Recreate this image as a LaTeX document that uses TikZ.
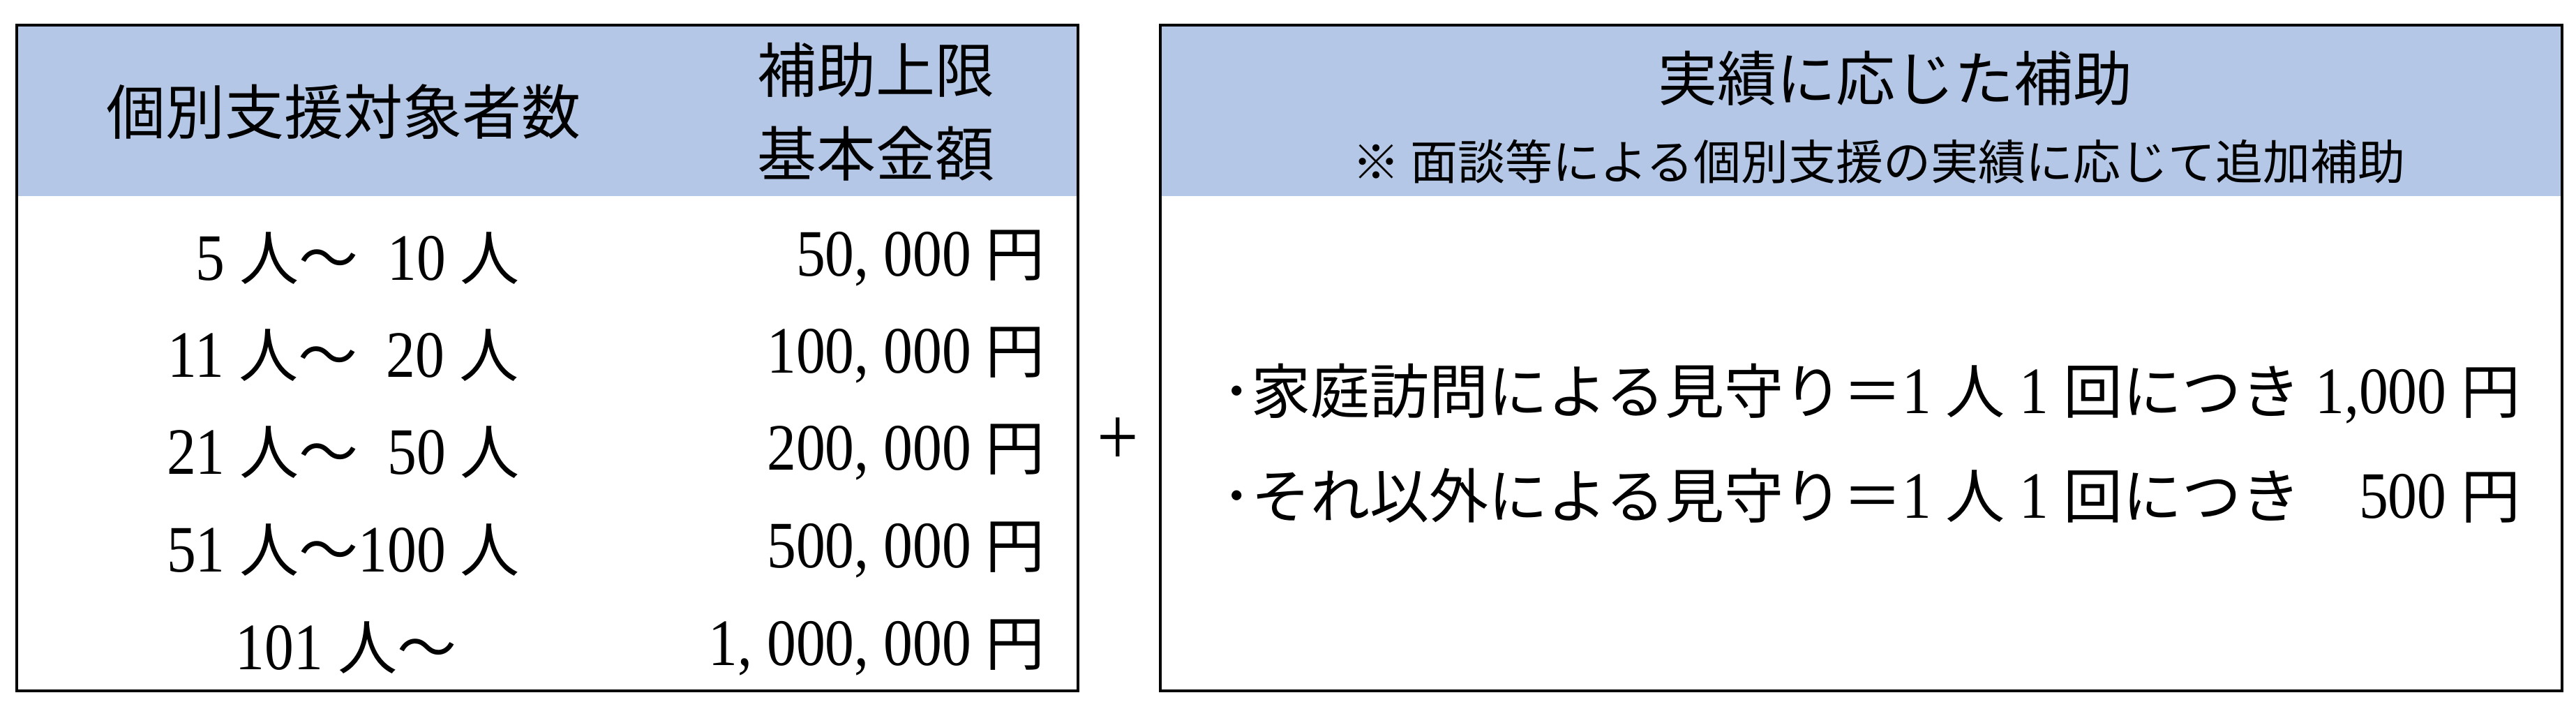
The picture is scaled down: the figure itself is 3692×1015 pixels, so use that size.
\documentclass[tikz,border=0pt]{standalone}
\usepackage{fontspec}
\usepackage{calc}
\setmainfont{Liberation Serif}[FakeStretch=0.88]
\newfontfamily\jp{Noto Sans CJK JP}
\newcommand\J[1]{{\jp\fontsize{85}{100}\selectfont #1}}
\definecolor{hdrblue}{HTML}{B4C7E7}
\begin{document}
\begin{tikzpicture}[x=1pt,y=-1pt,
  frame/.style={draw=black, line width=4pt},
  hdrfill/.style={fill=hdrblue, draw=none},
  txt/.style={inner sep=0pt, font=\fontsize{95}{100}\selectfont},
  jtxt/.style={inner sep=0pt, font=\jp\fontsize{85}{120}\selectfont},
  subtxt/.style={inner sep=0pt, font=\jp\fontsize{68}{80}\selectfont}]
\useasboundingbox (0,0) rectangle (3692,1015);
% header fills
\path[hdrfill] (24,36) rectangle (1545,281);
\path[hdrfill] (1663,36) rectangle (3672,281);
% frames
\draw[frame] (24,36) rectangle (1545,990);
\draw[frame] (1663,36) rectangle (3672,990);
% left header
\node[jtxt] (h1) at (492,160) {個別支援対象者数};
\node[jtxt, align=center] (h2) at (1255,160) {補助上限\\基本金額};
% rows
\node[txt] (r1) at (492,370) {\phantom{0}5 \J{人～}\phantom{0}10 \J{人}};
\node[txt] (r2) at (492,509) {11 \J{人～}\phantom{0}20 \J{人}};
\node[txt] (r3) at (492,648) {21 \J{人～}\phantom{0}50 \J{人}};
\node[txt] (r4) at (492,788) {51 \J{人～}100 \J{人}};
\node[txt] (r5) at (496,928) {101 \J{人～}};
\node[txt, anchor=east] (a1) at (1498,370) {50, 000 \J{円}};
\node[txt, anchor=east] (a2) at (1498,509) {100, 000 \J{円}};
\node[txt, anchor=east] (a3) at (1498,648) {200, 000 \J{円}};
\node[txt, anchor=east] (a4) at (1498,788) {500, 000 \J{円}};
\node[txt, anchor=east] (a5) at (1498,928) {1, 000, 000 \J{円}};
% plus
\node[inner sep=0pt, font=\fontsize{120}{120}\selectfont] (plus) at (1602,633) {+};
% right header
\node[jtxt] (h3) at (2716,112) {実績に応じた補助};
\node[subtxt] (h4) at (2693,232) {※ 面談等による個別支援の実績に応じて追加補助};
% right body
\node[txt, anchor=west] (b1) at (1751,564) {\J{･家庭訪問による見守り＝}1 \J{人} 1 \J{回につき} 1,000 \J{円}};
\node[txt, anchor=west] (b2) at (1751,710) {\J{･それ以外による見守り＝}1 \J{人} 1 \J{回につき} \makebox[\widthof{1,000}][r]{500} \J{円}};
\end{tikzpicture}
\end{document}
